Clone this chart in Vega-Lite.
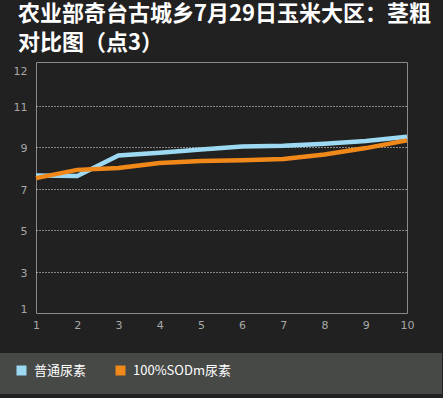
{
  "$schema": "https://vega.github.io/schema/vega-lite/v6.json",
  "width": 371,
  "height": 251,
  "autosize": {"type": "none"},
  "padding": {"left": 36, "top": 62, "right": 36, "bottom": 85},
  "background": "#212121",
  "config": {
    "font": "Noto Sans CJK SC",
    "view": {"stroke": "#8a8a8a", "strokeWidth": 1}
  },
  "title": {
    "text": ["农业部奇台古城乡7月29日玉米大区：茎粗", "对比图（点3）"],
    "anchor": "start",
    "frame": "group",
    "color": "#ffffff",
    "fontSize": 22,
    "fontWeight": "bold",
    "font": "Noto Sans CJK SC",
    "lineHeight": 29,
    "dx": -18,
    "offset": 7
  },
  "data": {
    "values": [
      {"x": 1, "series": "普通尿素", "v": 7.63},
      {"x": 2, "series": "普通尿素", "v": 7.6},
      {"x": 3, "series": "普通尿素", "v": 8.59},
      {"x": 4, "series": "普通尿素", "v": 8.73},
      {"x": 5, "series": "普通尿素", "v": 8.88},
      {"x": 6, "series": "普通尿素", "v": 9.03},
      {"x": 7, "series": "普通尿素", "v": 9.06},
      {"x": 8, "series": "普通尿素", "v": 9.16},
      {"x": 9, "series": "普通尿素", "v": 9.29},
      {"x": 10, "series": "普通尿素", "v": 9.5},
      {"x": 1, "series": "100%SODm尿素", "v": 7.5},
      {"x": 2, "series": "100%SODm尿素", "v": 7.9},
      {"x": 3, "series": "100%SODm尿素", "v": 7.99},
      {"x": 4, "series": "100%SODm尿素", "v": 8.23},
      {"x": 5, "series": "100%SODm尿素", "v": 8.33},
      {"x": 6, "series": "100%SODm尿素", "v": 8.36},
      {"x": 7, "series": "100%SODm尿素", "v": 8.42},
      {"x": 8, "series": "100%SODm尿素", "v": 8.64},
      {"x": 9, "series": "100%SODm尿素", "v": 8.95},
      {"x": 10, "series": "100%SODm尿素", "v": 9.32}
    ]
  },
  "mark": {"type": "line", "strokeWidth": 4.5},
  "encoding": {
    "x": {
      "field": "x",
      "type": "quantitative",
      "scale": {"domain": [1, 10], "nice": false, "zero": false},
      "axis": {
        "title": null,
        "values": [1, 2, 3, 4, 5, 6, 7, 8, 9, 10],
        "format": "d",
        "grid": false,
        "domain": false,
        "ticks": false,
        "labelColor": "#a8a8a8",
        "labelFontSize": 11,
        "labelFont": "DejaVu Sans",
        "labelPadding": 6,
        "labelFlush": false
      }
    },
    "y": {
      "field": "v",
      "type": "quantitative",
      "scale": {"domain": [1, 13.1], "nice": false, "zero": false},
      "axis": {
        "title": null,
        "values": [1, 3, 5, 7, 9, 11, 12.7],
        "labelExpr": "datum.value > 12 ? '12' : datum.label",
        "format": "d",
        "domain": false,
        "ticks": false,
        "grid": true,
        "gridColor": "#e8e8e8",
        "gridDash": [1, 2],
        "gridWidth": 1,
        "gridOpacity": {"condition": {"test": "datum.value > 12 || datum.value < 2", "value": 0}, "value": 1},
        "labelColor": "#a8a8a8",
        "labelFontSize": 11,
        "labelFont": "DejaVu Sans",
        "labelPadding": 9,
        "labelOffset": 1.5,
        "labelFlush": true
      }
    },
    "color": {
      "field": "series",
      "type": "nominal",
      "scale": {"domain": ["普通尿素", "100%SODm尿素"], "range": ["#9dd9f3", "#f0891a"]},
      "legend": {
        "title": " ",
        "titleOrient": "right",
        "titlePadding": 200,
        "titleFontSize": 12,
        "orient": "none",
        "direction": "horizontal",
        "legendX": -36,
        "legendY": 291,
        "fillColor": "#474947",
        "padding": 11,
        "symbolType": "square",
        "symbolSize": 25,
        "symbolStrokeWidth": 5,
        "symbolOffset": 4,
        "labelColor": "#ffffff",
        "labelFontSize": 13,
        "labelOffset": 6,
        "columnPadding": 21
      }
    }
  }
}
